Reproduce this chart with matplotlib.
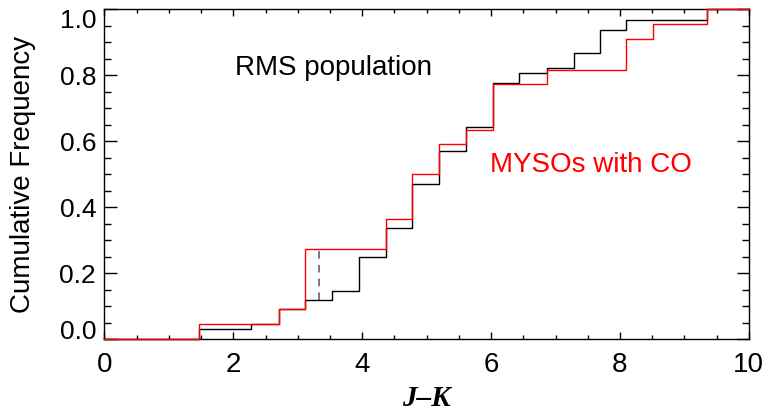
import matplotlib
matplotlib.use("Agg")
import matplotlib.pyplot as plt
import matplotlib.transforms as mtransforms
from matplotlib.ticker import MultipleLocator, FuncFormatter

# Cumulative J-K distributions (step edges and cumulative fractions)
rms_edges = [0.0, 1.46, 2.28, 2.71, 3.12, 3.53, 3.95, 4.37, 4.78, 5.19,
             5.61, 6.03, 6.44, 6.86, 7.28, 7.69, 8.10, 9.35, 10.0]
rms_cum = [0.0, 0.030, 0.045, 0.091, 0.119, 0.147, 0.249, 0.337, 0.471, 0.571,
           0.644, 0.778, 0.808, 0.822, 0.867, 0.939, 0.968, 1.0, 1.0]

co_edges = [0.0, 1.46, 2.71, 3.12, 4.37, 4.78, 5.19, 5.61, 6.03, 6.86,
            8.10, 8.51, 9.35, 10.0]
co_cum = [0.0, 0.045, 0.091, 0.273, 0.364, 0.500, 0.591, 0.636, 0.773, 0.818,
          0.909, 0.955, 1.0, 1.0]

# Maximum separation between the two distributions (KS statistic)
ks_x = 3.33
ks_low, ks_high = 0.119, 0.273

plt.rcParams['font.family'] = ['Liberation Sans', 'DejaVu Sans']

fig = plt.figure(figsize=(7.69, 4.12), dpi=100)
ax = fig.add_axes([0.1358, 0.1765, 0.838, 0.8005])

ax.step(rms_edges, rms_cum, where='post', color='black', lw=1.0,
        clip_on=False, zorder=4)
ax.step(co_edges, co_cum, where='post', color='red', lw=1.0,
        clip_on=False, zorder=5)
ax.plot([ks_x, ks_x], [ks_low, ks_high], color='#555555', lw=1.1,
        ls=(0, (5, 4)), zorder=3)

ymin, ymax = 0.0, 1.0
ax.set_xlim(0, 10)
ax.set_ylim(ymin, ymax)

ax.xaxis.set_major_locator(MultipleLocator(2))
ax.xaxis.set_minor_locator(MultipleLocator(0.5))
ax.yaxis.set_major_locator(MultipleLocator(0.2))
ax.yaxis.set_minor_locator(MultipleLocator(0.05))


def inner_label(v, pos):
    # end labels are placed separately so they stay inside the frame
    if abs(v - ymin) < 1e-9 or abs(v - ymax) < 1e-9:
        return ''
    return f'{v:.1f}'


ax.yaxis.set_major_formatter(FuncFormatter(inner_label))

ax.tick_params(axis='both', which='both', direction='in',
               top=True, right=True, width=1.0, color='black')
ax.tick_params(axis='x', which='major', length=5, labelsize=20, pad=9)
ax.tick_params(axis='x', which='minor', length=2.8)
ax.tick_params(axis='y', which='major', length=9, labelsize=19, pad=6)
ax.tick_params(axis='y', which='minor', length=4.7)

ylab_trans = mtransforms.offset_copy(
    mtransforms.blended_transform_factory(ax.transAxes, ax.transData),
    fig=fig, x=-6, y=0, units='points')
ax.text(0, ymin, f'{ymin:.1f}', transform=ylab_trans, ha='right',
        va='baseline', fontsize=19, clip_on=False)
ax.text(0, ymax, f'{ymax:.1f}', transform=ylab_trans, ha='right',
        va='top', fontsize=19, clip_on=False)

for sp in ax.spines.values():
    sp.set_linewidth(1.0)
    sp.set_color('black')

ax.set_ylabel('Cumulative Frequency', fontsize=20, labelpad=17)
ax.set_xlabel('J–K', fontsize=21, family=['Liberation Serif', 'DejaVu Serif'],
              fontweight='bold', fontstyle='italic', labelpad=5)

ax.text(2.02, 0.822, 'RMS population', fontsize=20, color='black',
        va='center', ha='left')
ax.text(5.98, 0.528, 'MYSOs with CO', fontsize=20, color='red',
        va='center', ha='left')

fig.savefig('out.png', dpi=100)
